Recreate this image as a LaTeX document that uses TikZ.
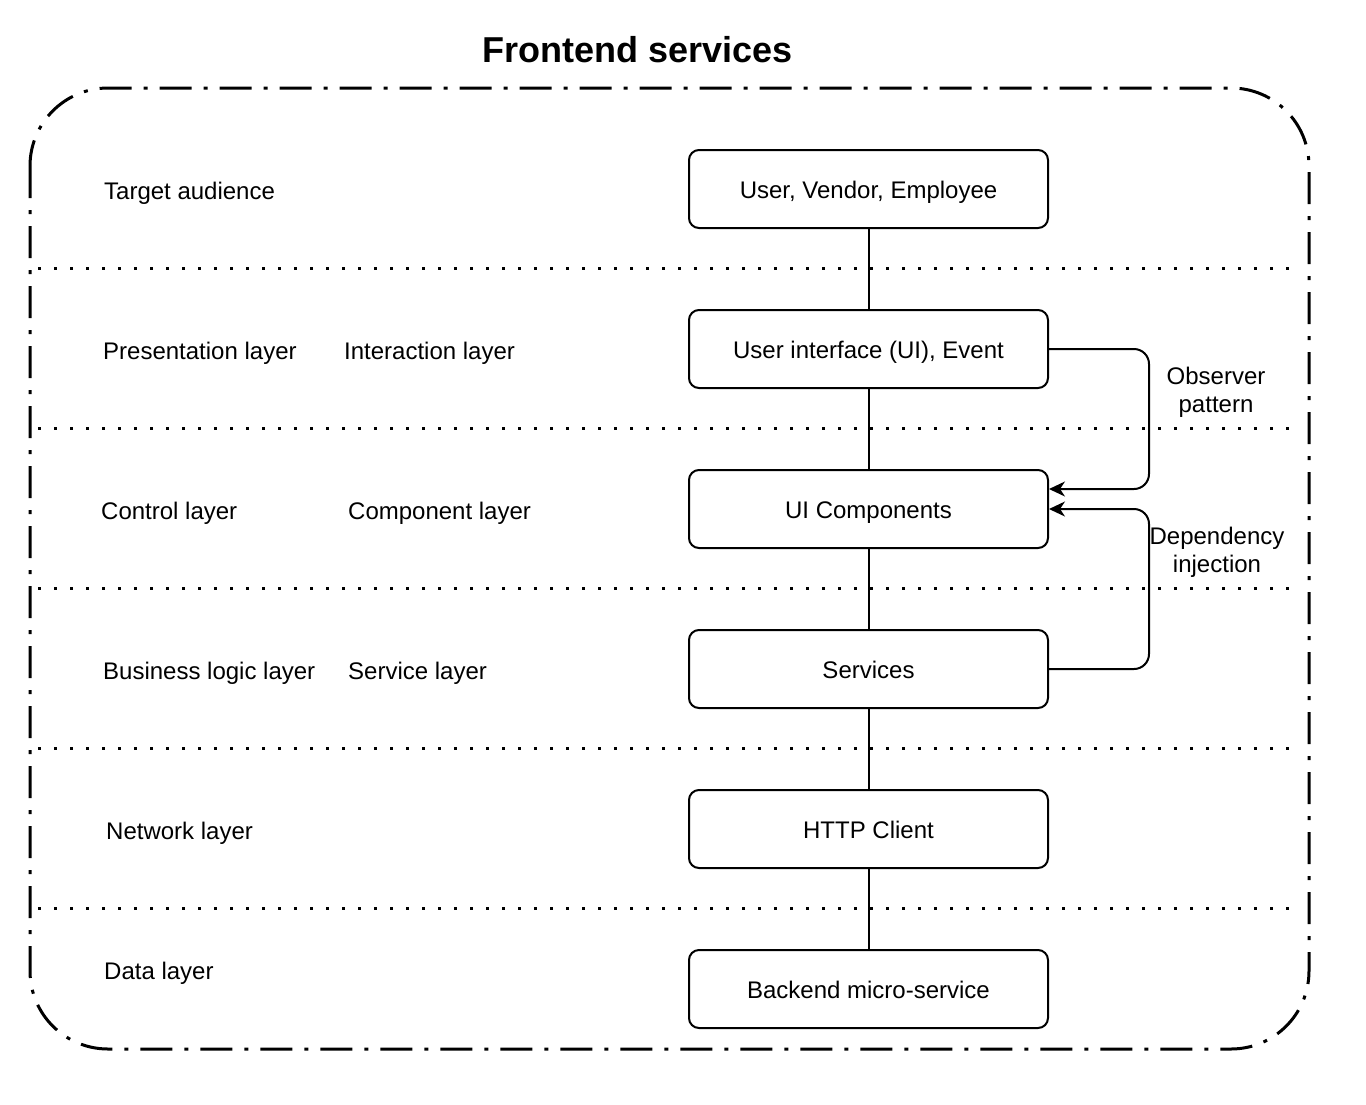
\documentclass[tikz,border=0pt]{standalone}
\usepackage{fontspec}
\setmainfont{Liberation Sans}
\usetikzlibrary{arrows.meta}
\begin{document}
\begin{tikzpicture}[x = 1pt, y = -1pt,
		txt/.style = {font=\fontsize{24}{28}\selectfont, text height=21pt, text depth=2pt},
		box/.style = {txt, draw, line width=2pt, rounded corners=10pt, minimum width=359pt, minimum height=78pt},
		layer/.style = {txt, anchor=west, inner sep=0pt},
		note/.style = {align=center, inner sep=0pt, font=\fontsize{24}{28}\selectfont},
		sep/.style = {line width=3pt, dash pattern=on 3pt off 13pt},
		link/.style = {line width=2pt, rounded corners=15pt, -{Stealth[length=16pt, width=15pt, inset=5pt]}}]
	\useasboundingbox (0, 0) rectangle (1366, 1104);
	
	% Frame
	\node[font=\fontsize{36}{40}\selectfont\bfseries] (title) at (638, 50) {Frontend services};
	\draw[line width=3pt, dash pattern=on 32pt off 12pt on 4pt off 12pt, rounded corners=78pt] (30, 88) rectangle (1309, 1049);
	
	% Separators
	\foreach \y in {268, 428, 588, 748, 908}
		\draw[sep] (38, \y) -- (1300, \y);
	
	% Layers
	\node[layer] (audience) at (104, 190) {Target audience};
	\node[layer] (presentation) at (103, 350) {Presentation layer};
	\node[layer] (interaction) at (344, 350) {Interaction layer};
	\node[layer] (control) at (101, 510) {Control layer};
	\node[layer] (component) at (348, 510) {Component layer};
	\node[layer] (business) at (103, 670) {Business logic layer};
	\node[layer] (service) at (348, 670) {Service layer};
	\node[layer] (network) at (106, 830) {Network layer};
	\node[layer] (data) at (104, 970) {Data layer};
	
	% Nodes
	\node[box] (user) at (868.5, 189) {User, Vendor, Employee};
	\node[box] (ui) at (868.5, 349) {User interface (UI), Event};
	\node[box] (comp) at (868.5, 509) {UI Components};
	\node[box] (services) at (868.5, 669) {Services};
	\node[box] (http) at (868.5, 829) {HTTP Client};
	\node[box] (backend) at (868.5, 989) {Backend micro-service};
	
	% Edges
	\draw[line width=2pt] (user) -- (ui);
	\draw[line width=2pt] (ui) -- (comp);
	\draw[line width=2pt] (comp) -- (services);
	\draw[line width=2pt] (services) -- (http);
	\draw[line width=2pt] (http) -- (backend);
	\draw[link] (ui.east) -- ++(100, 0) |- ([yshift=20pt]comp.east);
	\draw[link] (services.east) -- ++(100, 0) |- (comp.east);
	\node[note] (observer) at (1216, 392) {Observer\\pattern};
	\node[note] (injection) at (1217, 552) {Dependency\\injection};
\end{tikzpicture}
\end{document}
